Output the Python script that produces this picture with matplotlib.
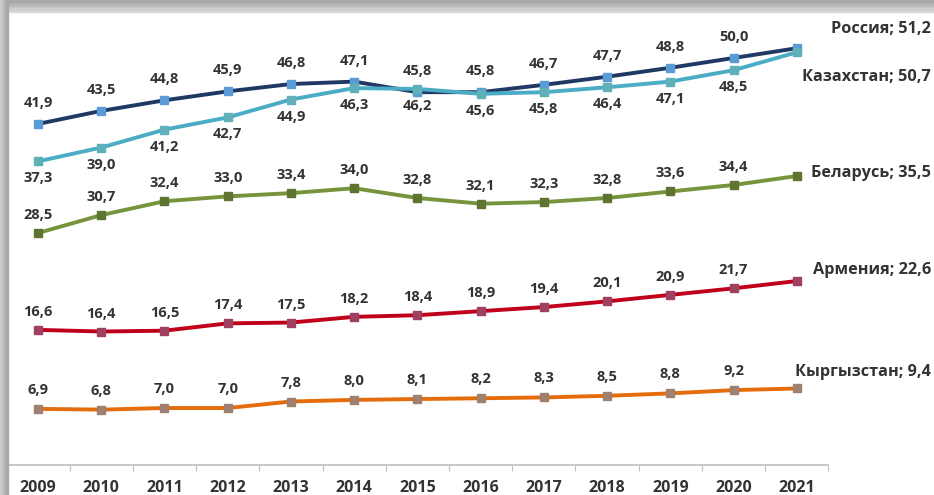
import numpy as np
import matplotlib.pyplot as plt
from matplotlib.patches import Rectangle

plt.rcParams['font.family'] = ['Open Sans', 'DejaVu Sans']

years = list(range(2009, 2022))
russia = [41.9, 43.5, 44.8, 45.9, 46.8, 47.1, 45.8, 45.8, 46.7, 47.7, 48.8, 50.0, 51.2]
kazakhstan = [37.3, 39.0, 41.2, 42.7, 44.9, 46.3, 46.2, 45.6, 45.8, 46.4, 47.1, 48.5, 50.7]
belarus = [28.5, 30.7, 32.4, 33.0, 33.4, 34.0, 32.8, 32.1, 32.3, 32.8, 33.6, 34.4, 35.5]
armenia = [16.6, 16.4, 16.5, 17.4, 17.5, 18.2, 18.4, 18.9, 19.4, 20.1, 20.9, 21.7, 22.6]
kyrgyzstan = [6.9, 6.8, 7.0, 7.0, 7.8, 8.0, 8.1, 8.2, 8.3, 8.5, 8.8, 9.2, 9.4]

# name, values, line colour, marker colour, value-label offset (px), end-label offset (px)
series = [
    ("Россия", russia, "#1f3864", "#5b9bd5", 21, 19),
    ("Казахстан", kazakhstan, "#4bacc6", "#5fb0b8", -17, -25),
    ("Беларусь", belarus, "#77933c", "#5d7530", 18, 3),
    ("Армения", armenia, "#c0001a", "#a04060", 18, 11),
    ("Кыргызстан", kyrgyzstan, "#e46c0a", "#a08070", 19, 16),
]

fig = plt.figure(figsize=(9.34, 4.95), dpi=100)

# grey frame along the top and left edges
for i, c in enumerate(["#d9d9d9", "#cfcfcf", "#c4c4c4", "#b5b5b5", "#a9a9a9"]):
    fig.patches.append(Rectangle((0, 1 - (12 - i * 2.4) / 495), 1, 2.4 / 495,
                                 transform=fig.transFigure, color=c, zorder=0))
for i, c in enumerate(["#cbcbcb", "#c2c2c2", "#b4b4b4", "#a8a8a8"]):
    fig.patches.append(Rectangle((i * 2 / 934, 0), 2 / 934, 1,
                                 transform=fig.transFigure, color=c, zorder=0))

ax = fig.add_axes([6.4 / 934, 30 / 495, 822 / 934, 453 / 495])
ax.set_xlim(2008.5, 2021.5)
ax.set_ylim(0, 55.65)
ax.patch.set_alpha(0)

for name, vals, lc, mc, dy, ey in series:
    ax.plot(years, vals, '-', color=lc, lw=2.8, marker='s', markersize=5.5,
            markerfacecolor=mc, markeredgecolor=mc, clip_on=False, zorder=3)
    for x, v in zip(years[:-1], vals[:-1]):
        ax.annotate(f"{v:.1f}".replace('.', ','), (x, v), xytext=(0, dy),
                    textcoords='offset pixels', ha='center', va='center',
                    fontsize=10.5, fontweight='bold', color='#333333')
    v = vals[-1]
    ax.annotate(f"{name}; {v:.1f}".replace('.', ','), (931, v),
                xycoords=('figure pixels', 'data'),
                xytext=(0, ey), textcoords='offset pixels', ha='right',
                va='center', fontsize=11.7, fontweight='bold',
                color='#333333', annotation_clip=False)

for s in ['top', 'right', 'left']:
    ax.spines[s].set_visible(False)
ax.spines['bottom'].set_color('#bfbfbf')
ax.spines['bottom'].set_linewidth(1.2)
ax.set_yticks([])
ax.set_xticks(np.arange(2008.5, 2022, 1))
ax.set_xticks(years, minor=True)
ax.set_xticklabels([])
ax.set_xticklabels([str(y) for y in years], minor=True,
                   fontsize=11.5, fontweight='bold', color='#333333')
ax.tick_params(axis='x', which='major', length=4, color='#bfbfbf')
ax.tick_params(axis='x', which='minor', length=0, pad=10.5)

fig.savefig("out.png", dpi=100)
